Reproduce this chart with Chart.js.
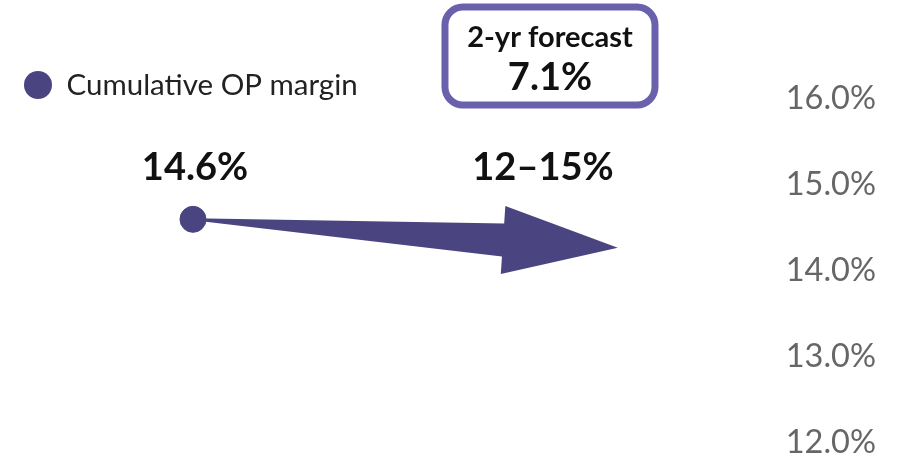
<!DOCTYPE html>
<html>
<head>
<meta charset="utf-8">
<script src="https://cdn.jsdelivr.net/npm/chart.js@4.4.1/dist/chart.umd.min.js"></script>
<style>
  html, body { margin: 0; padding: 0; background: #fff; }
  #wrap { width: 897px; height: 462px; }
</style>
</head>
<body>
<div id="wrap"><canvas id="canvas" width="897" height="462"></canvas></div>
<script>
// series + annotation values
const seriesLabel = 'Cumulative OP margin';
const periods = [0];             // x position of the actual value
const opMargin = [14.6];         // cumulative OP margin, %
const arrowEnd = [1.19, 14.27];  // where the forecast arrow points (x, %)
const forecastX = 1;             // x position of the forecast labels
const forecastRange = '12–15%';
const forecastTitle = '2-yr forecast';
const forecastValue = '7.1%';
const yTicks = [12, 13, 14, 15, 16];

const PURPLE = '#4a4580';
const BOX = '#6a61ad';
const FONT = 'Lato, "Open Sans", sans-serif';

// tapered arrow from the actual point to the forecast, value labels, callout and legend
const forecastPlugin = {
  id: 'forecast',
  beforeDatasetsDraw(chart) {
    const {ctx, scales: {x, y}} = chart;
    const x0 = x.getPixelForValue(periods[0]);
    const y0 = y.getPixelForValue(opMargin[0]);
    const x1 = x.getPixelForValue(arrowEnd[0]);
    const y1 = y.getPixelForValue(arrowEnd[1]);
    const len = Math.hypot(x1 - x0, y1 - y0);
    const ang = Math.atan2(y1 - y0, x1 - x0);
    const head = 115, shaft = 16.5, wing = 34;
    ctx.save();
    ctx.translate(x0, y0);
    ctx.rotate(ang);
    ctx.beginPath();
    ctx.moveTo(0, -1);
    ctx.lineTo(len - head, -shaft);
    ctx.lineTo(len - head, -wing);
    ctx.lineTo(len, 0);
    ctx.lineTo(len - head, wing);
    ctx.lineTo(len - head, shaft);
    ctx.lineTo(0, 1);
    ctx.closePath();
    ctx.fillStyle = PURPLE;
    ctx.fill();
    ctx.restore();
  },
  afterDraw(chart) {
    const {ctx, scales: {x, y}} = chart;
    const labelY = y.getPixelForValue(opMargin[0]) - 52;
    ctx.save();
    ctx.fillStyle = '#111';
    ctx.textAlign = 'center';
    ctx.textBaseline = 'middle';
    ctx.font = 'bold 38px ' + FONT;
    ctx.fillText(opMargin[0].toFixed(1) + '%', x.getPixelForValue(periods[0]) + 2, labelY);
    const fx = x.getPixelForValue(forecastX);
    ctx.fillText(forecastRange, fx - 7, labelY);

    // forecast callout box
    const bw = 210, bh = 98, bx = fx - bw / 2, by = 7, r = 18;
    ctx.beginPath();
    ctx.roundRect(bx, by, bw, bh, r);
    ctx.fillStyle = '#fff';
    ctx.fill();
    ctx.lineWidth = 7;
    ctx.strokeStyle = BOX;
    ctx.stroke();
    ctx.fillStyle = '#111';
    ctx.font = 'bold 29px ' + FONT;
    ctx.fillText(forecastTitle, fx, by + 31);
    ctx.font = 'bold 38px ' + FONT;
    ctx.fillText(forecastValue, fx, by + 71);

    // legend entry, top left
    const ds = chart.data.datasets[0];
    const lx = 38, ly = 85;
    ctx.beginPath();
    ctx.arc(lx, ly, 14, 0, Math.PI * 2);
    ctx.fillStyle = ds.backgroundColor;
    ctx.fill();
    ctx.fillStyle = '#222';
    ctx.textAlign = 'left';
    ctx.font = '29.5px ' + FONT;
    ctx.fillText(ds.label, lx + 28.5, ly);
    ctx.restore();
  }
};

const ctx = document.getElementById('canvas').getContext('2d');
new Chart(ctx, {
  type: 'scatter',
  data: {
    datasets: [{
      label: seriesLabel,
      data: periods.map((p, i) => ({x: p, y: opMargin[i]})),
      backgroundColor: PURPLE,
      borderColor: PURPLE,
      pointRadius: 13,
      pointHoverRadius: 13,
      pointStyle: 'circle'
    }]
  },
  options: {
    responsive: false,
    animation: false,
    layout: {padding: {left: 24.5, right: 18, top: 99, bottom: 17}},
    plugins: {
      legend: {display: false},
      tooltip: {enabled: false}
    },
    scales: {
      x: {
        type: 'linear',
        display: false,
        min: -0.472,
        max: 1.652
      },
      y: {
        position: 'right',
        min: yTicks[0],
        max: yTicks[yTicks.length - 1],
        afterBuildTicks: axis => { axis.ticks = yTicks.map(v => ({value: v})); },
        grid: {display: false, drawTicks: false},
        border: {display: false},
        ticks: {
          color: '#666',
          padding: 3,
          font: {family: FONT, size: 32.5, lineHeight: 1},
          callback: v => v.toFixed(1) + '%'
        }
      }
    }
  },
  plugins: [forecastPlugin]
});
</script>
</body>
</html>
